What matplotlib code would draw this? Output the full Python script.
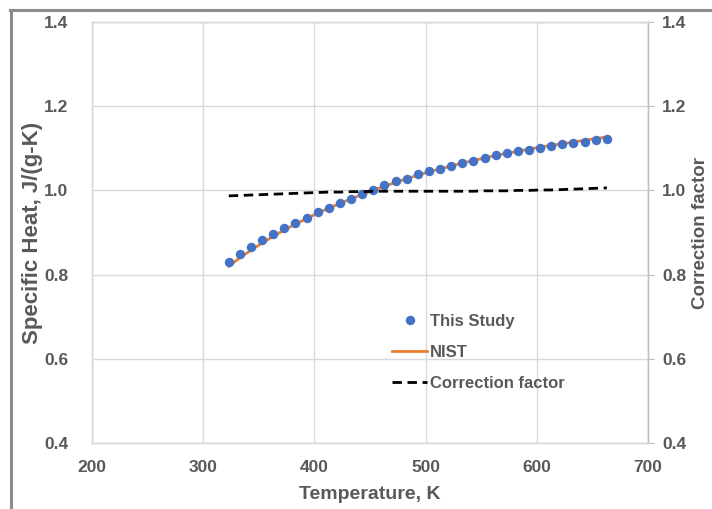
import matplotlib
matplotlib.use("Agg")
import matplotlib.pyplot as plt
from matplotlib.lines import Line2D

plt.rcParams['font.family'] = ['Liberation Sans', 'DejaVu Sans']

# temperatures, K
temp = [323, 333, 343, 353, 363, 373, 383, 393, 403, 413, 423, 433, 443, 453,
        463, 473, 483, 493, 503, 513, 523, 533, 543, 553, 563, 573, 583, 593,
        603, 613, 623, 633, 643, 653, 663]
this_study = [0.830, 0.849, 0.866, 0.882, 0.896, 0.910, 0.923, 0.935, 0.948,
              0.959, 0.969, 0.980, 0.991, 1.001, 1.013, 1.022, 1.028, 1.038,
              1.045, 1.052, 1.059, 1.065, 1.071, 1.078, 1.084, 1.090, 1.094,
              1.097, 1.101, 1.106, 1.111, 1.113, 1.116, 1.119, 1.122]
nist = [0.820, 0.840, 0.858, 0.875, 0.891, 0.906, 0.920, 0.933, 0.946, 0.958,
        0.969, 0.980, 0.990, 1.000, 1.010, 1.019, 1.028, 1.036, 1.044, 1.051,
        1.058, 1.065, 1.071, 1.077, 1.083, 1.088, 1.093, 1.098, 1.103, 1.107,
        1.111, 1.115, 1.119, 1.123, 1.127]
correction = [0.987, 0.988, 0.989, 0.990, 0.991, 0.992, 0.993, 0.994, 0.995,
              0.996, 0.996, 0.997, 0.997, 0.998, 0.998, 0.998, 0.998, 0.998,
              0.998, 0.998, 0.998, 0.998, 0.998, 0.999, 0.999, 0.999, 1.000,
              1.000, 1.001, 1.001, 1.002, 1.003, 1.004, 1.005, 1.006]

x_ticks = [200, 300, 400, 500, 600, 700]
y_ticks = [0.4, 0.6, 0.8, 1.0, 1.2, 1.4]

txt = '#595959'
grid = '#d9d9d9'

fig = plt.figure(figsize=(7.12, 5.09), dpi=100)
ax = fig.add_axes([92/712, 1-443/509, 556/712, 421/509])
ax2 = ax.twinx()

ax.plot(temp, nist, color='#ED7D31', lw=2.0, label='NIST', zorder=2)
ax.plot(temp, this_study, 'o', color='#4472C4', ms=6.8, mew=0,
        label='This Study', zorder=3)
ax2.plot(temp, correction, color='black', lw=2.0, dashes=(3.4, 2.0),
         label='Correction factor')

ax.set_xlim(200, 700)
ax.set_ylim(0.4, 1.4)
ax2.set_ylim(0.4, 1.4)
ax.set_xticks(x_ticks)
ax.set_yticks(y_ticks)
ax2.set_yticks(y_ticks)
ax.set_yticklabels(['%.1f' % v for v in y_ticks])
ax2.set_yticklabels(['%.1f' % v for v in y_ticks])

ax.grid(True, color=grid, lw=1)
ax.set_axisbelow(True)
for a in (ax, ax2):
    for s in a.spines.values():
        s.set_color(grid)
        s.set_linewidth(1)
ax2.spines['right'].set_color('#bfbfbf')

ax.tick_params(axis='both', length=0, labelsize=12.5, labelcolor=txt)
ax.tick_params(axis='y', pad=17)
ax.tick_params(axis='x', pad=12)
ax2.tick_params(axis='y', length=4, color='#bfbfbf', labelsize=12.5,
                labelcolor=txt, pad=6)
for lab in ax.get_xticklabels() + ax.get_yticklabels() + ax2.get_yticklabels():
    lab.set_fontweight('bold')

ax.set_xlabel('Temperature, K', fontsize=14, fontweight='bold', color=txt,
              labelpad=8)
ax.set_ylabel('Specific Heat, J/(g-K)', fontsize=16, fontweight='bold',
              color=txt)
ax.yaxis.set_label_coords(-0.089, 0.5)
ax2.set_ylabel('Correction factor', fontsize=13.5, fontweight='bold',
               color=txt)
ax2.yaxis.set_label_coords(1.08, 0.5)

h1, l1 = ax.get_legend_handles_labels()
h2, l2 = ax2.get_legend_handles_labels()
order = [1, 0]
leg = ax.legend([h1[i] for i in order] + h2, [l1[i] for i in order] + l2,
                loc='center left', bbox_to_anchor=(0.513, 0.215),
                frameon=False, fontsize=12, handlelength=2.1,
                handletextpad=0.15, labelspacing=0.95)
for t in leg.get_texts():
    t.set_color(txt)
    t.set_fontweight('bold')

# grey frame of the original picture
fig.add_artist(Line2D([10/712, 1], [1-10/509, 1-10/509], color='#8c8c8c',
                      lw=2.2, transform=fig.transFigure))
fig.add_artist(Line2D([11/712, 11/712], [0, 1-10/509], color='#8c8c8c',
                      lw=2.2, transform=fig.transFigure))

plt.savefig('out.png', dpi=100)
